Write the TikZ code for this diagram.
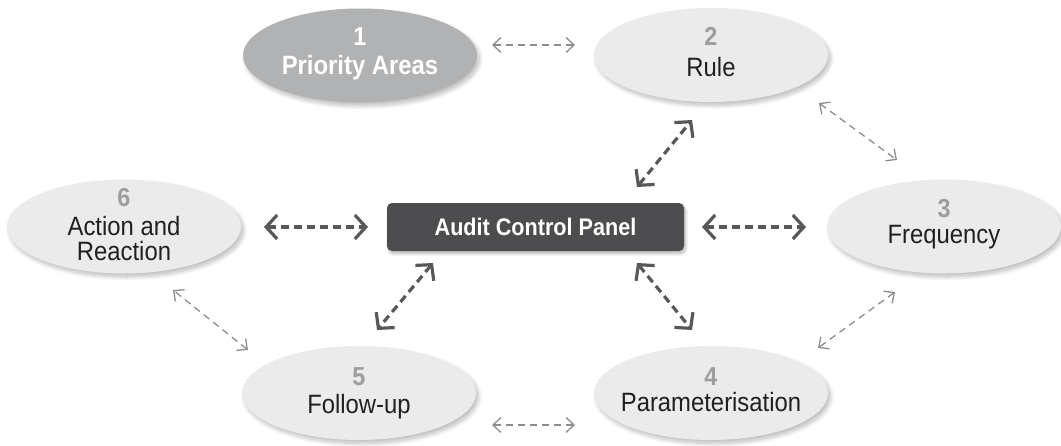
\documentclass[tikz,border=0pt]{standalone}
\usepackage{fontspec}
\setmainfont{Liberation Sans}[FakeStretch=0.9]
\usetikzlibrary{arrows.meta,shapes.geometric,shadows.blur}

\definecolor{ovalfill}{HTML}{EBEBEC}
\definecolor{keyfill}{HTML}{B1B2B4}
\definecolor{numgray}{HTML}{9D9D9F}
\definecolor{labink}{HTML}{231F20}
\definecolor{panelfill}{HTML}{4D4D4F}
\definecolor{darkline}{HTML}{58585A}
\definecolor{lightline}{HTML}{8C8C8E}

\tikzset{
  oval/.style={ellipse, fill=ovalfill, minimum width=234pt, minimum height=94pt,
    inner sep=0pt,
    blur shadow={shadow xshift=2.5pt, shadow yshift=-3.5pt, shadow blur radius=4pt,
      shadow blur steps=10, shadow opacity=26}},
  keyoval/.style={oval, fill=keyfill},
  num/.style={anchor=base, inner sep=0pt, text=numgray,
    font=\fontsize{26}{26}\selectfont\bfseries},
  keynum/.style={num, text=white},
  lab/.style={anchor=base, inner sep=0pt, text=labink,
    font=\fontsize{26.5}{26.5}\selectfont},
  keylab/.style={lab, text=white, font=\fontsize{26.5}{26.5}\selectfont\bfseries},
  panel/.style={rectangle, rounded corners=5pt, fill=panelfill,
    minimum width=297pt, minimum height=48pt, inner sep=0pt, text=white,
    font=\fontsize{24}{24}\selectfont\bfseries,
    blur shadow={shadow xshift=1.5pt, shadow yshift=-2.5pt, shadow blur radius=3pt,
      shadow blur steps=8, shadow opacity=30}},
  darkarrow/.style={draw=darkline, line width=3.2pt, dash pattern=on 8pt off 5pt,
    arrows={Straight Barb[length=11pt,width=24pt]-Straight Barb[length=11pt,width=24pt]}},
  lightarrow/.style={draw=lightline, line width=1.3pt, dash pattern=on 7pt off 5pt,
    arrows={Straight Barb[length=8pt,width=15pt]-Straight Barb[length=8pt,width=15pt]}}
}

\begin{document}
\begin{tikzpicture}[x=1pt,y=-1pt]
  \useasboundingbox (0,0) rectangle (1061,445);

  % outer ring of steps
  \node[keyoval] (e1) at (360,55.5) {};
  \node[oval] (e2) at (711,55) {};
  \node[oval] (e3) at (944,226.5) {};
  \node[oval] (e4) at (711,393) {};
  \node[oval] (e5) at (359,393) {};
  \node[oval] (e6) at (124,226.5) {};

  % step numbers and titles
  \node[keynum] (n1) at ([yshift=10pt]e1.center) {1};
  \node[keylab] (t1) at ([yshift=-19pt]e1.center) {Priority Areas};
  \node[num] (n2) at ([yshift=10pt]e2.center) {2};
  \node[lab] (t2) at ([yshift=-21pt]e2.center) {Rule};
  \node[num] (n3) at ([yshift=9pt]e3.center) {3};
  \node[lab] (t3) at ([yshift=-17pt]e3.center) {Frequency};
  \node[num] (n4) at ([yshift=8pt]e4.center) {4};
  \node[lab] (t4) at ([yshift=-18pt]e4.center) {Parameterisation};
  \node[num] (n5) at ([yshift=8pt]e5.center) {5};
  \node[lab] (t5) at ([yshift=-20pt]e5.center) {Follow-up};
  \node[num] (n6) at ([yshift=20pt]e6.center) {6};
  \node[lab] (t6a) at ([yshift=-8.5pt]e6.center) {Action and};
  \node[lab] (t6b) at ([yshift=-33.5pt]e6.center) {Reaction};

  % central panel
  \node[panel] (box) at (535.5,227) {Audit Control Panel};

  % arrow end points
  \coordinate (a12s) at (492,45);  \coordinate (a12e) at (575,45);
  \coordinate (a23s) at (819,103); \coordinate (a23e) at (897,160);
  \coordinate (a34s) at (895,292); \coordinate (a34e) at (818,348);
  \coordinate (a54s) at (575,425); \coordinate (a54e) at (492,425);
  \coordinate (a65s) at (248,350); \coordinate (a65e) at (173,290);

  \coordinate (b6s) at (264,227);  \coordinate (b6e) at (368,227);
  \coordinate (b3s) at (702,227);  \coordinate (b3e) at (806,227);
  \coordinate (b2s) at (637,187);  \coordinate (b2e) at (692,120);
  \coordinate (b5s) at (433,263);  \coordinate (b5e) at (377,330);
  \coordinate (b4s) at (637,263);  \coordinate (b4e) at (692,330);

  % links between neighbouring steps
  \draw[lightarrow] (a12s) -- (a12e);
  \draw[lightarrow] (a23s) -- (a23e);
  \draw[lightarrow] (a34s) -- (a34e);
  \draw[lightarrow] (a54s) -- (a54e);
  \draw[lightarrow] (a65s) -- (a65e);

  % links between the panel and the steps
  \draw[darkarrow] (b6s) -- (b6e);
  \draw[darkarrow] (b3s) -- (b3e);
  \draw[darkarrow] (b2s) -- (b2e);
  \draw[darkarrow] (b5s) -- (b5e);
  \draw[darkarrow] (b4s) -- (b4e);
\end{tikzpicture}
\end{document}
